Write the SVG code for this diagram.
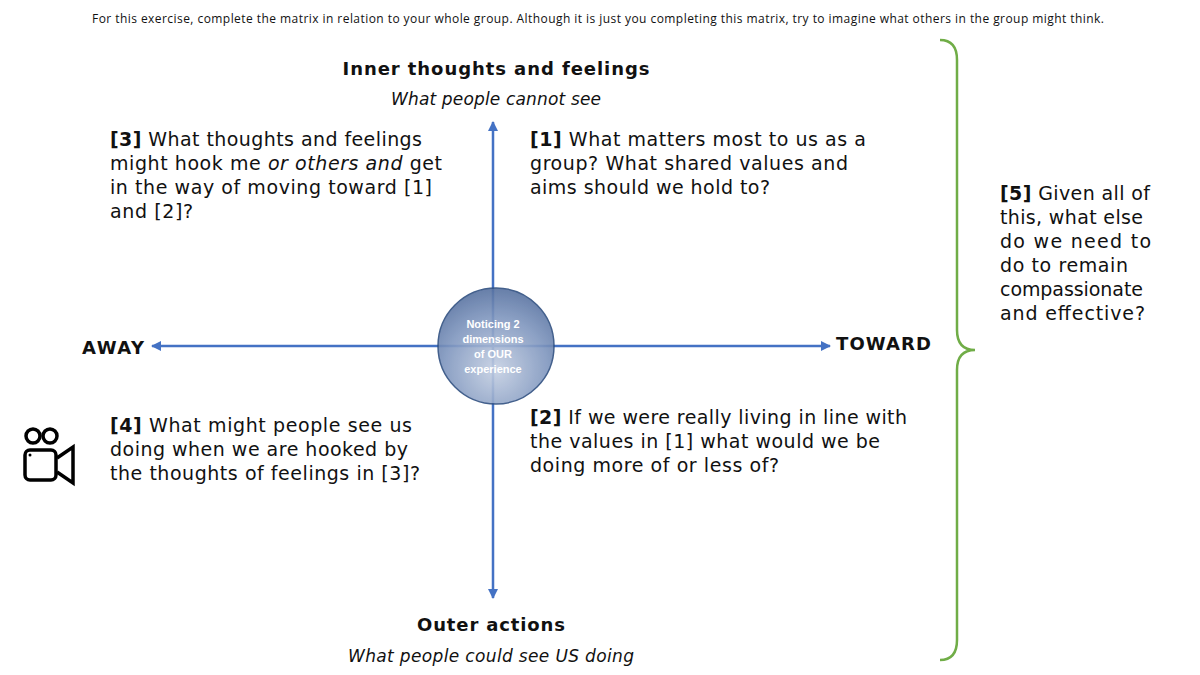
<svg xmlns="http://www.w3.org/2000/svg" width="1200" height="675" viewBox="0 0 1200 675">
<style>
.b{font-family:"DejaVu Sans",Verdana,sans-serif;font-size:19px;fill:#111}
.h{font-family:"DejaVu Sans",sans-serif;font-size:18px;font-weight:bold;fill:#111}
.i{font-family:"DejaVu Sans",sans-serif;font-size:17px;font-style:italic;fill:#111}
.ax{stroke:#4472c4;stroke-width:2.5;fill:none}
</style>
<defs>
<marker id="ar" viewBox="0 0 10 10" refX="9" refY="5" markerWidth="4" markerHeight="4" orient="auto-start-reverse"><path d="M0,0L10,5L0,10z" fill="#4472c4"/></marker>
<radialGradient id="g" cx="0.5" cy="0.7" r="0.75"><stop offset="0" stop-color="#c5d0e3"/><stop offset="0.6" stop-color="#7f96be"/><stop offset="1" stop-color="#4f6a9a"/></radialGradient>
</defs>
<text x="598" y="23" text-anchor="middle" font-family="Open Sans,sans-serif" font-size="12" fill="#111" textLength="1012">For this exercise, complete the matrix in relation to your whole group. Although it is just you completing this matrix, try to imagine what others in the group might think.</text>
<g id="connectors">
<line class="ax" x1="493" y1="122" x2="493" y2="598" marker-start="url(#ar)" marker-end="url(#ar)"/>
<line class="ax" x1="152" y1="346" x2="830" y2="346" marker-start="url(#ar)" marker-end="url(#ar)"/>
<path d="M940,40 Q957,40 957,60 L957,330 Q957,350 975,350 Q957,350 957,370 L957,640 Q957,660 940,660" stroke="#70ad47" stroke-width="2.5" fill="none"/>
</g>
<g id="center">
<circle cx="496" cy="346" r="58" fill="url(#g)" stroke="#2f4f80" stroke-width="1.5" opacity="0.9"/>
<g font-family="Liberation Sans,sans-serif" font-size="11" font-weight="bold" fill="#fff" text-anchor="middle">
<text x="493" y="328">Noticing 2</text><text x="493" y="343">dimensions</text><text x="493" y="358">of OUR</text><text x="493" y="373">experience</text></g>
</g>
<g id="top"><text class="h" x="496" y="75" text-anchor="middle" textLength="307">Inner thoughts and feelings</text>
<text class="i" x="496" y="105" text-anchor="middle" textLength="210">What people cannot see</text></g>
<g id="bottom"><text class="h" x="491" y="631" text-anchor="middle" textLength="148">Outer actions</text>
<text class="i" x="491" y="662" text-anchor="middle" textLength="286">What people could see US doing</text></g>
<g id="away"><text class="h" x="82" y="354" textLength="62">AWAY</text></g>
<g id="toward"><text class="h" x="836" y="350" textLength="95">TOWARD</text></g>
<g id="q3"><text class="b" x="110" y="146" textLength="312"><tspan font-weight="bold">[3]</tspan> What thoughts and feelings</text>
<text class="b" x="110" y="170" textLength="332">might hook me <tspan font-style="italic">or others and</tspan> get</text>
<text class="b" x="110" y="194" textLength="322">in the way of moving toward [1]</text>
<text class="b" x="110" y="218" textLength="83">and [2]?</text></g>
<g id="q1"><text class="b" x="530" y="146" textLength="336"><tspan font-weight="bold">[1]</tspan> What matters most to us as a</text>
<text class="b" x="530" y="170" textLength="318">group? What shared values and</text>
<text class="b" x="530" y="194" textLength="240">aims should we hold to?</text></g>
<g id="q4"><text class="b" x="110" y="432" textLength="302"><tspan font-weight="bold">[4]</tspan> What might people see us</text>
<text class="b" x="110" y="456" textLength="298">doing when we are hooked by</text>
<text class="b" x="110" y="480" textLength="310">the thoughts of feelings in [3]?</text></g>
<g id="q2"><text class="b" x="530" y="424" textLength="377"><tspan font-weight="bold">[2]</tspan> If we were really living in line with</text>
<text class="b" x="530" y="448" textLength="350">the values in [1] what would we be</text>
<text class="b" x="530" y="472" textLength="249">doing more of or less of?</text></g>
<g id="q5"><text class="b" x="1000" y="200" textLength="150"><tspan font-weight="bold">[5]</tspan> Given all of</text>
<text class="b" x="1000" y="224" textLength="143">this, what else</text>
<text class="b" x="1000" y="248" textLength="151">do  we need to</text>
<text class="b" x="1000" y="272" textLength="128">do to remain</text>
<text class="b" x="1000" y="296" textLength="143">compassionate</text>
<text class="b" x="1000" y="320" textLength="145">and effective?</text></g>
<g id="camera" fill="none" stroke="#000" stroke-width="3.5">
<circle cx="33" cy="436" r="7"/><circle cx="50" cy="436" r="7"/>
<rect x="25" y="450" width="31" height="30" rx="5"/>
<path d="M57,458 L73,447 L73,483 L57,472"/>
<circle cx="30" cy="455" r="1.5" fill="#000" stroke="none"/>
</g>
</svg>
